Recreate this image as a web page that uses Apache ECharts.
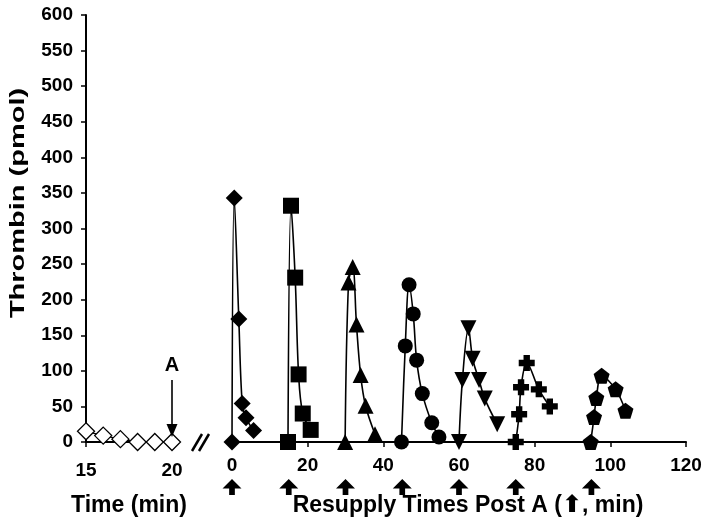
<!DOCTYPE html>
<html>
<head>
<meta charset="utf-8">
<script src="https://cdn.jsdelivr.net/npm/echarts@6/dist/echarts.min.js"></script>
<style>
  html, body { margin: 0; padding: 0; background: #fff; }
  #chart { width: 714px; height: 532px; }
</style>
</head>
<body>
<div id="chart"></div>
<script>
// Data (time in min, thrombin in pmol)

// Before A: 15-20 min
const preTime = [15, 16, 17, 18, 19, 20];
const preThrombin = [15, 9, 4, 0, 0, 0];

// After each resupply: [time post A, thrombin]
const resupply0 = [[0, 0], [0.6, 343], [1.8, 173], [2.7, 54], [3.7, 34], [5.7, 16]];
const resupply15 = [[14.8, 0], [15.6, 332], [16.7, 231], [17.6, 95], [18.7, 40], [20.8, 17]];
const resupply30 = [[29.9, 0], [30.8, 224], [31.9, 246], [32.9, 165], [34.0, 94], [35.3, 51], [37.8, 11]];
const resupply45 = [[44.8, 0], [45.8, 135], [46.8, 221], [47.9, 180], [48.8, 115], [50.3, 68], [52.8, 27], [54.7, 7]];
const resupply60 = [[60.0, 0], [60.9, 87], [62.5, 160], [63.6, 117], [65.3, 87], [66.8, 61], [70.1, 25]];
const resupply75 = [[75.0, 0], [75.9, 39], [76.4, 77], [77.9, 111], [81.1, 74], [84.0, 50]];
const resupply95 = [[94.8, 0], [95.7, 35], [96.3, 62], [97.7, 93], [101.4, 74], [104.0, 44]];

// Resupply times (arrows under the axis)
const resupplyTimes = [0, 15, 30, 45, 60, 75, 95];

const yTicks = { min: 0, max: 600, interval: 50 };

const FONT = 'Liberation Sans, Arial, sans-serif';
const CROSS = 'path://M6,0 H14 V6 H20 V14 H14 V20 H6 V14 H0 V6 H6 Z';
const PENTAGON = 'path://M10,0 L20,7.3 L16.2,19 L3.8,19 L0,7.3 Z';
const ARROW_UP = 'path://M10,0 L20,9 L13,9 L13,15 L7,15 L7,9 L0,9 Z';

const chart = echarts.init(document.getElementById('chart'));

function resupplySeries(data, symbol, size, extra) {
    return Object.assign({
        type: 'line',
        xAxisIndex: 1,
        yAxisIndex: 1,
        data: data,
        smooth: 0.35,
        symbol: symbol,
        symbolSize: size,
        clip: false,
        lineStyle: { color: '#000', width: 1.6 },
        itemStyle: { color: '#000' }
    }, extra || {});
}

const labelStyle = { color: '#000', fontFamily: FONT, fontWeight: 'bold', fontSize: 19 };
const axisLine = { show: true, lineStyle: { color: '#000', width: 2 } };
const axisTick = { show: true, inside: false, length: 5, lineStyle: { color: '#000', width: 1.5 } };

const option = {
    animation: false,
    backgroundColor: '#fff',
    grid: [
        { left: 86, top: 15, width: 86, height: 427 },
        { left: 232, top: 15, width: 454, height: 427 },
        { left: 232, top: 479, width: 454, height: 16 }
    ],
    xAxis: [
        {
            gridIndex: 0, type: 'value', min: 15, max: 20, interval: 5,
            axisLine: axisLine, axisTick: axisTick, splitLine: { show: false },
            axisLabel: Object.assign({ margin: 19 }, labelStyle),
            name: 'Time (min)', nameLocation: 'middle', nameGap: 52,
            nameTextStyle: { color: '#000', fontFamily: FONT, fontWeight: 'bold', fontSize: 23 }
        },
        {
            gridIndex: 1, type: 'value', min: 0, max: 120, interval: 20,
            axisLine: axisLine, axisTick: axisTick, splitLine: { show: false },
            axisLabel: Object.assign({ margin: 14 }, labelStyle),
            name: 'Resupply Times Post A ({ar|⬆}, min)', nameLocation: 'middle', nameGap: 52,
            nameTextStyle: {
                color: '#000', fontFamily: FONT, fontWeight: 'bold', fontSize: 23,
                padding: [0, 0, 0, 18],
                rich: { ar: { fontFamily: 'DejaVu Sans', fontWeight: 'bold', fontSize: 24, color: '#000' } }
            }
        },
        { gridIndex: 2, type: 'value', min: 0, max: 120, show: false }
    ],
    yAxis: [
        {
            gridIndex: 0, type: 'value', min: yTicks.min, max: yTicks.max, interval: yTicks.interval,
            axisLine: axisLine, axisTick: axisTick, splitLine: { show: false },
            axisLabel: Object.assign({ margin: 13 }, labelStyle)
        },
        { gridIndex: 1, type: 'value', min: yTicks.min, max: yTicks.max, show: false },
        { gridIndex: 2, type: 'value', min: 0, max: 1, show: false }
    ],
    series: [
        {
            type: 'line',
            xAxisIndex: 0,
            yAxisIndex: 0,
            data: preTime.map((t, i) => [t, preThrombin[i]]),
            symbol: 'diamond',
            symbolSize: 17,
            clip: false,
            lineStyle: { color: '#000', width: 1.2 },
            itemStyle: { color: '#fff', borderColor: '#000', borderWidth: 1.3 },
            z: 3,
            markLine: {
                silent: true,
                symbol: ['none', 'triangle'],
                symbolSize: [11, 13],
                lineStyle: { color: '#000', width: 1.6, type: 'solid' },
                label: {
                    show: true, position: 'start', formatter: 'A',
                    color: '#000', fontFamily: FONT, fontWeight: 'bold', fontSize: 20
                },
                data: [[{ coord: [20, 87] }, { coord: [20, 16] }]]
            }
        },
        resupplySeries(resupply0, 'diamond', 17),
        resupplySeries(resupply15, 'rect', 16),
        resupplySeries(resupply30, 'triangle', 16),
        resupplySeries(resupply45, 'circle', 15),
        resupplySeries(resupply60, 'triangle', 16, { symbolRotate: 180 }),
        resupplySeries(resupply75, CROSS, 16),
        resupplySeries(resupply95, PENTAGON, 16),
        {
            type: 'scatter',
            xAxisIndex: 2,
            yAxisIndex: 2,
            data: resupplyTimes.map(t => [t, 0.5]),
            symbol: ARROW_UP,
            symbolSize: [19, 16],
            itemStyle: { color: '#000', opacity: 1 },
            clip: false,
            silent: true
        }
    ],
    graphic: [
        {
            type: 'line',
            shape: { x1: 192, y1: 451, x2: 202, y2: 434 },
            style: { stroke: '#000', lineWidth: 2.5 }
        },
        {
            type: 'line',
            shape: { x1: 199, y1: 451, x2: 209, y2: 434 },
            style: { stroke: '#000', lineWidth: 2.5 }
        },
        {
            type: 'text',
            x: 18, y: 203,
            rotation: Math.PI / 2,
            scaleX: 1.38,
            style: {
                text: 'Thrombin (pmol)', fill: '#000',
                font: 'bold 21px ' + FONT,
                align: 'center', verticalAlign: 'middle'
            }
        }
    ]
};

chart.setOption(option);
window.addEventListener('resize', () => chart.resize());
</script>
</body>
</html>
